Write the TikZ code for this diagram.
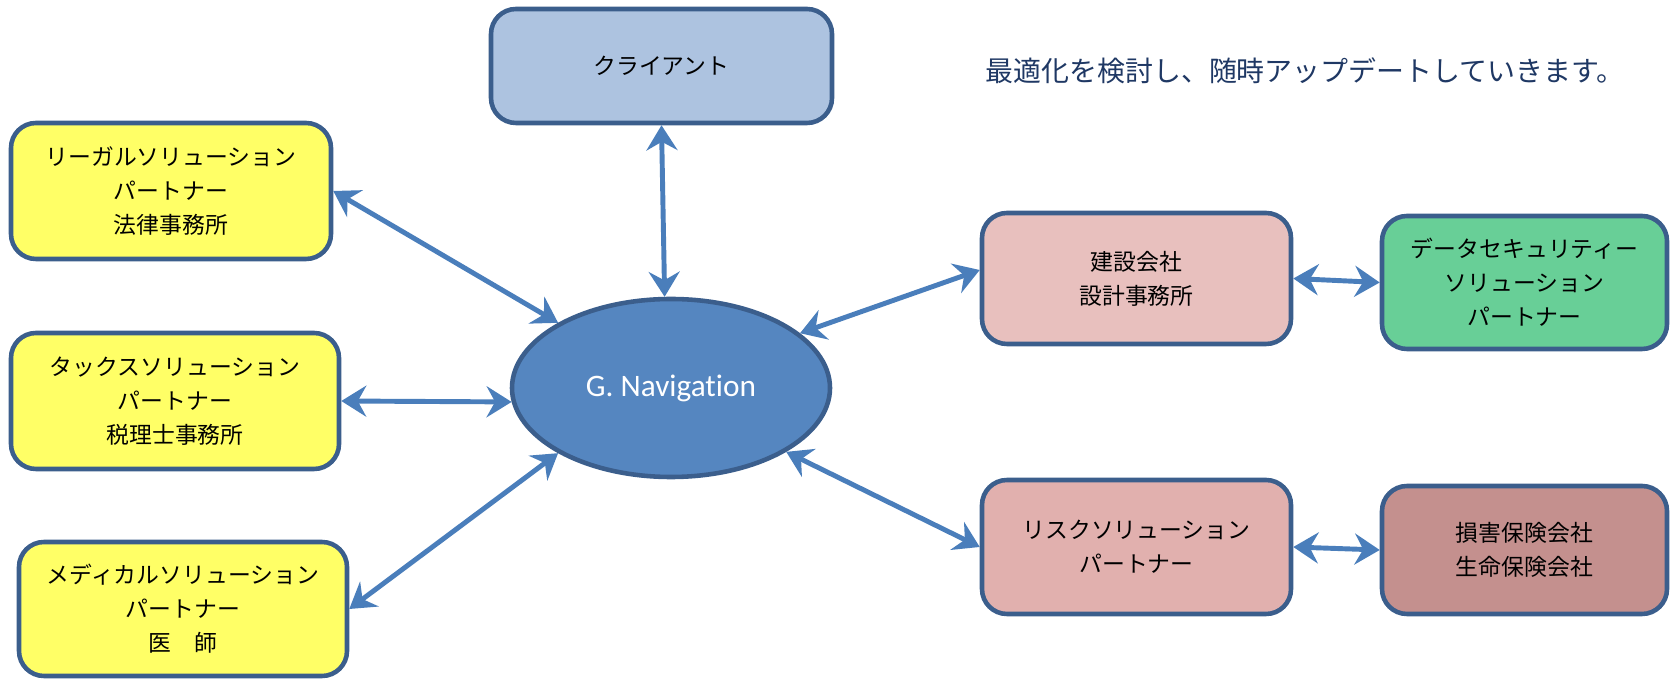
\documentclass[tikz,border=0pt]{standalone}
\usepackage{fontspec}
\setmainfont{Carlito}[Ligatures=NoCommon]
\newfontfamily\jfont{Noto Sans CJK JP}
\usetikzlibrary{arrows.meta,shapes.geometric}
\definecolor{edgeblue}{HTML}{3B5E8C}
\definecolor{linkblue}{HTML}{4A7EBB}
\definecolor{navblue}{HTML}{5586C0}
\definecolor{clientfill}{HTML}{ADC3E0}
\definecolor{partnerfill}{HTML}{FFFF66}
\definecolor{buildfill}{HTML}{E8C0BE}
\definecolor{securefill}{HTML}{68CF97}
\definecolor{riskfill}{HTML}{E1B0AE}
\definecolor{insurefill}{HTML}{C4908E}
\definecolor{notecolor}{HTML}{1F3864}
\begin{document}
\begin{tikzpicture}[>={Stealth[length=0.5cm,width=0.62cm,inset=0.17cm]},
    box/.style={draw=edgeblue,line width=2.6pt,rounded corners=0.5cm,align=center,
        font=\jfont\fontsize{13}{19.3}\selectfont,inner sep=0pt},
    link/.style={<->,draw=linkblue,fill=linkblue,line width=2.8pt}]
    \useasboundingbox (0,0) rectangle (33.46,13.6);
    \node [box,fill=clientfill,minimum width=6.82cm,minimum height=2.28cm] (client) at (13.23,12.28) {クライアント};
    \node [ellipse,draw=edgeblue,line width=2.6pt,fill=navblue,minimum width=6.36cm,minimum height=3.56cm,
        text=white,font=\fontsize{17.8}{20}\selectfont] (nav) at (13.42,5.84) {G. Navigation};
    \node [box,fill=partnerfill,minimum width=6.40cm,minimum height=2.72cm] (legal) at (3.42,9.78) {リーガルソリューション\\パートナー\\法律事務所};
    \node [box,fill=partnerfill,minimum width=6.56cm,minimum height=2.72cm] (tax) at (3.50,5.58) {タックスソリューション\\パートナー\\税理士事務所};
    \node [box,fill=partnerfill,minimum width=6.56cm,minimum height=2.68cm] (medical) at (3.66,1.42) {メディカルソリューション\\パートナー\\医\quad 師};
    \node [box,fill=buildfill,minimum width=6.18cm,minimum height=2.62cm] (build) at (22.73,8.03) {建設会社\\設計事務所};
    \node [box,fill=securefill,minimum width=5.70cm,minimum height=2.66cm] (secure) at (30.49,7.95) {データセキュリティー\\ソリューション\\パートナー};
    \node [box,fill=riskfill,minimum width=6.18cm,minimum height=2.68cm] (risk) at (22.73,2.66) {リスクソリューション\\パートナー};
    \node [box,fill=insurefill,minimum width=5.70cm,minimum height=2.56cm] (insure) at (30.49,2.60) {損害保険会社\\生命保険会社};
    \node [text=notecolor,font=\jfont\fontsize{15.9}{18}\selectfont] (note) at (26.1,12.18) {最適化を検討し、随時アップデートしていきます。};
    % connections
    \draw [link] (client.south) -- (nav.94);
    \draw [link] (legal.east) -- (nav.150);
    \draw [link] (tax.east) -- (nav.185);
    \draw [link] (medical.east) -- (nav.210);
    \draw [link] ([yshift=0.17cm]build.west) -- (nav.23);
    \draw [link] (risk.west) -- (nav.-29);
    \draw [link] (build.east) -- (secure.west);
    \draw [link] (risk.east) -- (insure.west);
\end{tikzpicture}
\end{document}
